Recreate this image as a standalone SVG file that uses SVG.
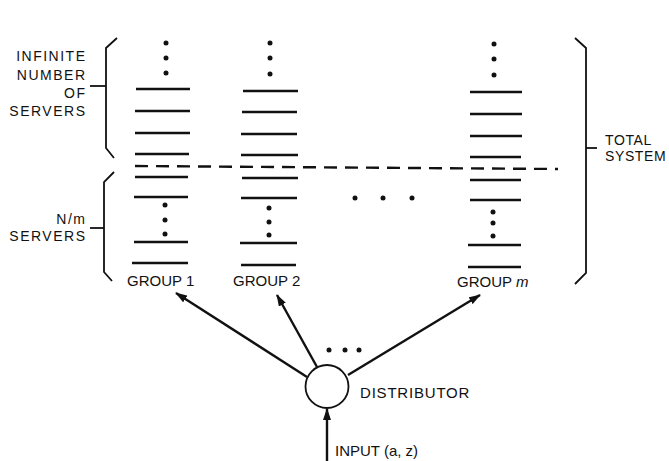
<svg xmlns="http://www.w3.org/2000/svg" width="669" height="461" viewBox="0 0 669 461">
  <style>
    .srv { stroke: #111; stroke-width: 2.6; stroke-linecap: butt; }
    .dot { fill: #111; }
    .brk { fill: none; stroke: #111; stroke-width: 1.8; stroke-linejoin: miter; }
    .lbl { font-family: "Liberation Sans", Arial, sans-serif; font-size: 14px; fill: #111; }
    .big { font-size: 15px; }
    .edge { stroke: #111; stroke-width: 2.4; fill: none; marker-end: url(#arrow); }
  </style>
  <defs>
    <marker id="arrow" viewBox="0 0 12 8" refX="11" refY="4" markerWidth="12" markerHeight="8" markerUnits="userSpaceOnUse" orient="auto">
      <path d="M0,0 L12,4 L0,8 Z" fill="#111"/>
    </marker>
  </defs>

  <rect width="669" height="461" fill="#fff"/>

  <!-- brackets and side labels -->
  <g id="infinite-servers">
    <path class="brk" d="M117,38 L106,48 L106,148 L114,158"/>
    <line class="brk" x1="90" y1="86" x2="106" y2="86"/>
    <g class="lbl" text-anchor="end" letter-spacing="1.5">
      <text x="86.5" y="61">INFINITE</text>
      <text x="86.5" y="80">NUMBER</text>
      <text x="86.5" y="98">OF</text>
      <text x="86.5" y="116">SERVERS</text>
    </g>
  </g>

  <g id="nm-servers">
    <path class="brk" d="M114,172 L104,182 L104,272 L112,281"/>
    <line class="brk" x1="90" y1="228" x2="104" y2="228"/>
    <g class="lbl" text-anchor="end" letter-spacing="1.5">
      <text x="86.5" y="224">N/m</text>
      <text x="86.5" y="241">SERVERS</text>
    </g>
  </g>

  <g id="total-system">
    <path class="brk" d="M575,38 L586,48 L586,273 L575,284"/>
    <line class="brk" x1="586" y1="148" x2="597" y2="148"/>
    <g class="lbl" letter-spacing="0.6">
      <text x="605" y="145">TOTAL</text>
      <text x="605" y="161">SYSTEM</text>
    </g>
  </g>

  <!-- server group 1 -->
  <g id="group-1">
    <circle class="dot" cx="166" cy="43" r="2.5"/>
    <circle class="dot" cx="166" cy="58" r="2.5"/>
    <circle class="dot" cx="166" cy="73" r="2.5"/>
    <line class="srv" x1="136" y1="89" x2="190" y2="89"/>
    <line class="srv" x1="135" y1="111" x2="190" y2="111"/>
    <line class="srv" x1="135" y1="133" x2="190" y2="133"/>
    <line class="srv" x1="135" y1="154" x2="189" y2="154"/>
    <line class="srv" x1="135" y1="177" x2="188" y2="177"/>
    <line class="srv" x1="134" y1="197" x2="188" y2="197"/>
    <circle class="dot" cx="165" cy="205" r="2.5"/>
    <circle class="dot" cx="165" cy="220" r="2.5"/>
    <circle class="dot" cx="165" cy="234" r="2.5"/>
    <line class="srv" x1="134" y1="242" x2="188" y2="242"/>
    <line class="srv" x1="132" y1="263" x2="188" y2="263"/>
    <text class="lbl big" x="127" y="286">GROUP 1</text>
  </g>

  <!-- server group 2 -->
  <g id="group-2">
    <circle class="dot" cx="270" cy="43" r="2.5"/>
    <circle class="dot" cx="270" cy="58" r="2.5"/>
    <circle class="dot" cx="270" cy="74" r="2.5"/>
    <line class="srv" x1="243" y1="91" x2="298" y2="91"/>
    <line class="srv" x1="242" y1="112" x2="297" y2="112"/>
    <line class="srv" x1="241" y1="134" x2="297" y2="134"/>
    <line class="srv" x1="241" y1="155" x2="298" y2="155"/>
    <line class="srv" x1="242" y1="178" x2="298" y2="178"/>
    <line class="srv" x1="241" y1="198" x2="297" y2="198"/>
    <circle class="dot" cx="269" cy="208" r="2.5"/>
    <circle class="dot" cx="269" cy="222" r="2.5"/>
    <circle class="dot" cx="269" cy="235" r="2.5"/>
    <line class="srv" x1="240" y1="243" x2="297" y2="243"/>
    <line class="srv" x1="241" y1="265" x2="296" y2="265"/>
    <text class="lbl big" x="233" y="286">GROUP 2</text>
  </g>

  <!-- ellipsis between groups -->
  <g id="more-groups">
    <circle class="dot" cx="355" cy="198" r="2.5"/>
    <circle class="dot" cx="383" cy="198" r="2.5"/>
    <circle class="dot" cx="412" cy="198" r="2.5"/>
  </g>

  <!-- server group m -->
  <g id="group-m">
    <circle class="dot" cx="494" cy="44" r="2.5"/>
    <circle class="dot" cx="494" cy="59" r="2.5"/>
    <circle class="dot" cx="494" cy="75" r="2.5"/>
    <line class="srv" x1="470" y1="92" x2="522" y2="92"/>
    <line class="srv" x1="470" y1="114" x2="522" y2="114"/>
    <line class="srv" x1="470" y1="136" x2="522" y2="136"/>
    <line class="srv" x1="470" y1="157" x2="521" y2="157"/>
    <line class="srv" x1="470" y1="180" x2="521" y2="180"/>
    <line class="srv" x1="470" y1="200" x2="521" y2="200"/>
    <circle class="dot" cx="493" cy="212" r="2.5"/>
    <circle class="dot" cx="493" cy="223" r="2.5"/>
    <circle class="dot" cx="493" cy="236" r="2.5"/>
    <line class="srv" x1="468" y1="245" x2="521" y2="245"/>
    <line class="srv" x1="468" y1="267" x2="521" y2="267"/>
    <text class="lbl big" x="457" y="287">GROUP <tspan font-style="italic">m</tspan></text>
  </g>

  <!-- boundary between finite and infinite server pools -->
  <line id="boundary" x1="135" y1="166" x2="558" y2="169" stroke="#111" stroke-width="2.4" stroke-dasharray="13 8"/>

  <!-- distributor -->
  <g id="distributor">
    <circle cx="327" cy="386.5" r="21.5" fill="#fff" stroke="#111" stroke-width="1.8"/>
    <text class="lbl big" x="360" y="398" letter-spacing="0.8">DISTRIBUTOR</text>
    <circle class="dot" cx="329" cy="350" r="2.5"/>
    <circle class="dot" cx="345" cy="350" r="2.5"/>
    <circle class="dot" cx="359" cy="350" r="2.5"/>
  </g>

  <text id="input-label" class="lbl big" x="335" y="456">INPUT (a, z)</text>

  <!-- connectors -->
  <g id="connectors">
    <line class="edge" x1="307" y1="377" x2="176" y2="293"/>
    <line class="edge" x1="317" y1="367" x2="277" y2="295"/>
    <line class="edge" x1="348" y1="375" x2="480" y2="295"/>
    <line class="edge" x1="327" y1="461" x2="327" y2="409"/>
  </g>
</svg>
